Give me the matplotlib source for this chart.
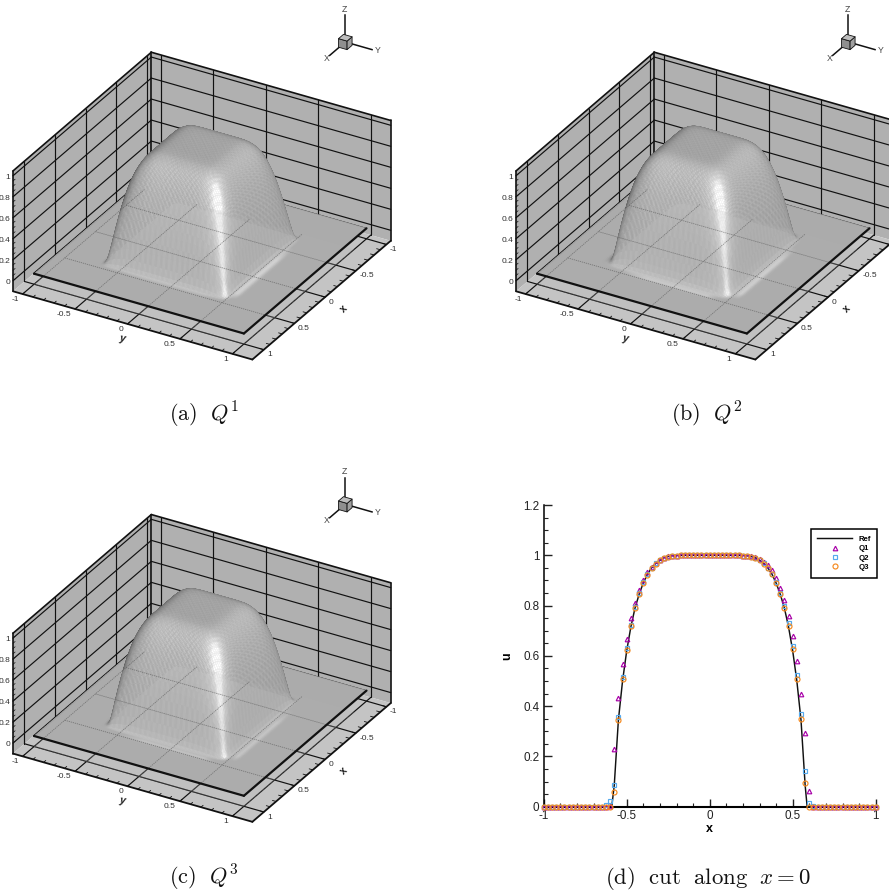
import numpy as np
import matplotlib
matplotlib.use('Agg')
import matplotlib.pyplot as plt
from matplotlib.collections import PolyCollection
from matplotlib.ticker import MultipleLocator, FixedFormatter, FixedLocator

plt.rcParams['font.family'] = ['Liberation Sans', 'DejaVu Sans']
plt.rcParams['mathtext.fontset'] = 'cm'

# ---- cut data (x = -0.625 ... 0.625 every 0.025; zero outside) ----
x_cut = [round(-0.625 + 0.025 * i, 3) for i in range(51)]
plateau = [1.0] * 15
q1_vals = [0, .002, .231, .431, .567, .669, .75, .812, .863, .903, .934, .955, .971, .983, .991, .996, .998, .999] + plateau + \
          [.999, .998, .996, .992, .984, .974, .96, .94, .91, .871, .822, .76, .68, .578, .45, .292, .064, 0]
q2_vals = [.007, .023, .085, .357, .515, .633, .724, .795, .85, .893, .925, .95, .968, .981, .99, .995, .998, .999] + plateau + \
          [.999, .998, .995, .99, .981, .969, .951, .927, .895, .851, .798, .729, .64, .525, .37, .142, .015, .002]
q3_vals = [0, 0, .057, .345, .506, .625, .718, .79, .846, .89, .923, .948, .967, .98, .989, .995, .997, .999] + plateau + \
          [.999, .997, .995, .989, .98, .967, .948, .924, .89, .847, .792, .72, .627, .509, .348, .096, 0, 0]
x_ref = [-1, -.6, -.59, -.575, -.55, -.525, -.5, -.475, -.45, -.425, -.4, -.375, -.35, -.325, -.3, -.275, -.25, -.225, -.2, -.15,
         .15, .2, .225, .25, .275, .3, .325, .35, .375, .4, .425, .45, .475, .5, .525, .55, .575, .587, .6, 1]
ref_vals = [0, 0, 0, .085, .345, .5, .62, .715, .79, .845, .89, .925, .95, .968, .98, .99, .995, .998, .999, 1,
            1, .999, .998, .995, .99, .98, .968, .95, .925, .89, .845, .79, .715, .62, .5, .345, .085, 0, 0, 0]
x_samples = [round(-1 + 0.025 * i, 3) for i in range(81)]

z_ticks = [0, .2, .4, .6, .8, 1]
xy_ticks = [-1, -.5, 0, .5, 1]
xy_labels = ['-1', '-0.5', '0', '0.5', '1']
z_labels = ['0', '0.2', '0.4', '0.6', '0.8', '1']
captions = [r'$\mathrm{(a)}\ \ Q^1$', r'$\mathrm{(b)}\ \ Q^2$', r'$\mathrm{(c)}\ \ Q^3$']
# strength of the thin light ridges at the foot of the bump: (y=+edge, x=+edge)
ridge = [(0.17, 0.04), (0.17, 0.14), (0.13, 0.11)]

# ---- projection (pixels per unit) ----
VX = (-61.3, 52.6); VY = (104.9, 29.9); VZ = (0.0, -105.0)
XR = (-1.07, 1.187); YR = (-1.092, 1.19); ZR = (-0.1, 1.046)
VIEW = np.array([.742, .433, .495])
WALL, FLOOR, PLANE = '#b0b0b0', '#c4c4c4', '#ababab'


def pr(x, y, z, org):
    x, y, z = np.asarray(x, float), np.asarray(y, float), np.asarray(z, float)
    return (org[0] + VX[0]*x + VY[0]*y + VZ[0]*z, org[1] + VX[1]*x + VY[1]*y + VZ[1]*z)


fig = plt.figure(figsize=(8.89, 8.94), dpi=100)
ax = fig.add_axes([0, 0, 1, 1])
ax.set_xlim(0, 889); ax.set_ylim(894, 0); ax.axis('off')


def line(p, q, org, lw=1.0, color='#111111', zorder=2, ls='-', alpha=1.0):
    X, Y = pr([p[0], q[0]], [p[1], q[1]], [p[2], q[2]], org)
    ax.plot(X, Y, color=color, lw=lw, zorder=zorder, ls=ls, alpha=alpha, solid_capstyle='round')


def quad(pts, org, color, zorder=1, alpha=1.0):
    a = np.array(pts).T
    X, Y = pr(a[0], a[1], a[2], org)
    ax.fill(X, Y, color=color, lw=0, zorder=zorder, alpha=alpha)


def surface(vals, rid, org):
    s = np.linspace(-1, 1, 161)
    p = np.interp(s / .965, x_cut, vals, left=0, right=0)
    ker = np.array([1, 2, 1]) / 4
    p = np.convolve(p, ker, mode='same')
    Xg, Yg = np.meshgrid(s, s, indexing='ij')
    U = np.outer(p, p)
    dp = np.gradient(p, s)
    Ux = np.outer(dp, p); Uy = np.outer(p, dp)
    n = np.stack([-Ux, -Uy, np.ones_like(U)], -1)
    n /= np.linalg.norm(n, axis=-1, keepdims=True)
    L = np.array([.6, .55, .58]); L /= np.linalg.norm(L)
    H = np.array([.64, .62, .45]); H /= np.linalg.norm(H)
    d = n @ L
    nh = np.clip(n @ H, 0, 1)
    sh = 0.42 + 0.42 * d + 0.18 * nh ** 14 + 0.5 * nh ** 90
    cx = .25*(Xg[:-1, :-1]+Xg[1:, :-1]+Xg[:-1, 1:]+Xg[1:, 1:])
    cy = .25*(Yg[:-1, :-1]+Yg[1:, :-1]+Yg[:-1, 1:]+Yg[1:, 1:])
    cu = .25*(U[:-1, :-1]+U[1:, :-1]+U[:-1, 1:]+U[1:, 1:])
    cs = .25*(sh[:-1, :-1]+sh[1:, :-1]+sh[:-1, 1:]+sh[1:, 1:])
    flat = 0.42 + 0.42 * L[2] + 0.18 * H[2] ** 14
    base = matplotlib.colors.to_rgb(PLANE)[0]
    cs = cs - (flat - base) * np.exp(-cu / 0.02)
    cs += rid[0] * np.exp(-((cy-.63)/.028)**2) * np.clip((.56-cx)/.1, 0, 1) * np.clip((cx+.42)/.25, 0, 1)
    cs += rid[1] * np.exp(-((cx-.63)/.028)**2) * np.clip((.5-cy)/.1, 0, 1) * np.clip((cy+.42)/.25, 0, 1)
    i, j = np.indices(cs.shape)
    cs += 0.018 * (((i//2 + j//2) % 2) - .5) * (cu > .02)
    cs = np.clip(cs, 0, 1)
    PX, PY = pr(Xg, Yg, U, org)
    verts = np.stack([
        np.stack([PX[:-1, :-1], PY[:-1, :-1]], -1), np.stack([PX[1:, :-1], PY[1:, :-1]], -1),
        np.stack([PX[1:, 1:], PY[1:, 1:]], -1), np.stack([PX[:-1, 1:], PY[:-1, 1:]], -1)], 2).reshape(-1, 4, 2)
    depth = (VIEW[0]*cx + VIEW[1]*cy + VIEW[2]*cu).ravel()
    o = np.argsort(depth)
    col = np.repeat(cs.ravel()[o][:, None], 3, 1)
    ax.add_collection(PolyCollection(verts[o], facecolors=col, edgecolors=col, linewidths=.25, zorder=5))


def panel(vals, rid, org, caption, capxy):
    x0, x1 = XR; y0, y1 = YR; z0, z1 = ZR
    quad([(x1, y0, z0), (x0, y0, z0), (x0, y0, z1), (x1, y0, z1)], org, WALL)
    quad([(x0, y0, z0), (x0, y1, z0), (x0, y1, z1), (x0, y0, z1)], org, WALL)
    quad([(x0, y0, z0), (x1, y0, z0), (x1, y1, z0), (x0, y1, z0)], org, FLOOR)
    for z in z_ticks:
        line((x1, y0, z), (x0, y0, z), org, .85)
        line((x0, y0, z), (x0, y1, z), org, .85)
    for t in xy_ticks:
        line((t, y0, z0), (t, y0, z1), org, .85)
        line((x0, t, z0), (x0, t, z1), org, .85)
        line((t, y0, z0), (t, y1, z0), org, .85)
        line((x0, t, z0), (x1, t, z0), org, .85)
    for t in np.arange(-1, 1.01, .1):
        line((x1, t, z0), (x1-.035, t, z0), org, .6)
        line((t, y1, z0), (t, y1-.035, z0), org, .6)
    for t in np.arange(0, 1.01, .05):
        line((x1, y0, t), (x1-.035, y0, t), org, .5)
    sq = [(1, -1, 0), (1, 1, 0), (-1, 1, 0), (-1, -1, 0)]
    quad(sq, org, PLANE, zorder=3)
    line(sq[3], sq[0], org, 1.6, zorder=4)
    line(sq[2], sq[3], org, .6, zorder=4)
    surface(vals, rid, org)
    seam = -0.8
    quad([(seam, -1, z0), (1, -1, z0), (1, 1, z0), (seam, 1, z0)], org, '#b4b4b4', zorder=6, alpha=.2)
    for t in xy_ticks:
        if t > seam:
            line((t, -1, z0), (t, 1, z0), org, .6, color='#5a5a5a', zorder=7, alpha=.65, ls=(0, (1.5, 1)))
        line((seam, t, z0), (1, t, z0), org, .6, color='#5a5a5a', zorder=7, alpha=.65, ls=(0, (1.5, 1)))
    line(sq[0], sq[1], org, 1.6, zorder=8)
    line(sq[1], sq[2], org, 1.6, zorder=8)
    for a, b in [((x1, y0, z0), (x1, y0, z1)), ((x1, y0, z1), (x0, y0, z1)), ((x0, y0, z1), (x0, y1, z1)),
                 ((x0, y1, z1), (x0, y1, z0)), ((x0, y0, z0), (x0, y0, z1))]:
        line(a, b, org, 1.2, zorder=2.5)
    for a, b in [((x1, y0, z0), (x1, y1, z0)), ((x1, y1, z0), (x0, y1, z0))]:
        line(a, b, org, 1.3, zorder=8)
    tc = '#303030'; fs = 6
    for t, s in zip(z_ticks, z_labels):
        X, Y = pr(x1, y0, t, org)
        ax.text(X-2.5, Y+1.6, s, ha='right', va='center', fontsize=fs, color=tc)
    for t, s in zip(xy_ticks, xy_labels):
        X, Y = pr(x1, t, z0, org)
        ax.text(X-4, Y+5.6, s, ha='right', va='center', fontsize=fs, color=tc)
        X, Y = pr(t, y1, z0, org)
        if X + 12 < 889:     # the reference loses the label beyond the page edge
            ax.text(X+3.4, Y+5.2, s, ha='left', va='center', fontsize=fs, color=tc)
    X, Y = pr(x1, 0, z0, org)
    ax.text(X-5.5, Y+14.5, 'y', ha='center', va='center', fontsize=7.5, color='#222222', weight='bold', style='italic', rotation=-10)
    X, Y = pr(0, y1, z0, org)
    ax.text(X+19, Y+11.5, 'x', ha='center', va='center', fontsize=7.5, color='#222222', weight='bold', rotation=45)
    tx, ty = org[0] + 145.0, org[1] - 209.0
    s = .255
    def tri(v, k=s):
        return (tx + k*(VX[0]*v[0] + VY[0]*v[1] + VZ[0]*v[2]), ty + k*(VX[1]*v[0] + VY[1]*v[1] + VZ[1]*v[2]))
    for v, lab, off in [((1, 0, 0), 'X', (-3.3, 2.8)), ((0, 1, 0), 'Y', (5.5, 0.8)), ((0, 0, 1), 'Z', (-1, -6))]:
        a, b = tri(v)
        ax.plot([tx, a], [ty, b], color='#111111', lw=1.1, zorder=9)
        ax.text(a+off[0], b+off[1], lab, fontsize=6.3, color='#444444', ha='center', va='center', zorder=9)
    h = .16
    faces = [([(h, -h, -h), (h, h, -h), (h, h, h), (h, -h, h)], '#8f8f8f'),
             ([(-h, h, -h), (h, h, -h), (h, h, h), (-h, h, h)], '#a0a0a0'),
             ([(-h, -h, h), (h, -h, h), (h, h, h), (-h, h, h)], '#bdbdbd')]
    for f, c in faces:
        P = [tri(v) for v in f]
        ax.fill(*zip(*P), facecolor=c, edgecolor='#111111', lw=.6, zorder=10, joinstyle='round')
    ax.text(capxy[0], capxy[1], caption, ha='center', va='center', fontsize=16, color='#111111')


panel(q1_vals, ridge[0], (200.3, 251.0), captions[0], (204, 415))
panel(q2_vals, ridge[1], (703.3, 251.0), captions[1], (707, 415))
panel(q3_vals, ridge[2], (200.3, 713.3), captions[2], (204, 878))
ax.text(708, 878, r'$\mathrm{(d)\ \ cut\ \ along}\ \ x=0$', ha='center', va='center', fontsize=16.4, color='#111111')

# ---- panel (d) ----
W, H = 889, 894
L_, R_, T_, B_ = 543.7, 875.7, 505.0, 806.7
a2 = fig.add_axes([L_/W, 1-B_/H, (R_-L_)/W, (B_-T_)/H])
a2.patch.set_alpha(0)
a2.set_xlim(-1, 1); a2.set_ylim(0, 1.2)
a2.plot(x_ref, ref_vals, color='#111111', lw=1.05, label='Ref', zorder=3, clip_on=False)
cut = lambda v: np.interp(x_samples, x_cut, v, left=0, right=0)
a2.plot(x_samples, cut(q1_vals), ls='', marker='^', ms=3.3, mfc='none', mec='#a800a8', mew=.85, label='Q1', zorder=4, clip_on=False)
a2.plot(x_samples, cut(q2_vals), ls='', marker='s', ms=3.0, mfc='none', mec='#55aaee', mew=.85, label='Q2', zorder=5, clip_on=False)
a2.plot(x_samples, cut(q3_vals), ls='', marker='o', ms=3.6, mfc='none', mec='#f58a1f', mew=.85, label='Q3', zorder=6, clip_on=False)
for s in ('top', 'right'):
    a2.spines[s].set_visible(False)
a2.spines['left'].set_linewidth(1.1)
a2.spines['bottom'].set_linewidth(1.5)
a2.xaxis.set_major_locator(FixedLocator([-1, -.5, 0, .5, 1]))
a2.xaxis.set_major_formatter(FixedFormatter(['-1', '-0.5', '0', '0.5', '1']))
a2.xaxis.set_minor_locator(MultipleLocator(.1))
a2.yaxis.set_major_locator(FixedLocator([0, .2, .4, .6, .8, 1, 1.2]))
a2.yaxis.set_major_formatter(FixedFormatter(['0', '0.2', '0.4', '0.6', '0.8', '1', '1.2']))
a2.yaxis.set_minor_locator(MultipleLocator(.05))
a2.tick_params(which='major', direction='in', length=5.6, width=1.0, labelsize=8.4, pad=2.4, colors='#222222')
a2.tick_params(axis='y', which='major', pad=3.2)
a2.tick_params(which='minor', direction='in', length=2.9, width=.8, colors='#222222')
a2.set_xlabel('x', fontsize=9, weight='bold', labelpad=0.5)
a2.set_ylabel('u', fontsize=9, weight='bold', labelpad=2)
a2.xaxis.set_label_coords(.5, -.055)
a2.yaxis.set_label_coords(-.092, .5)
bx = (810.7 - L_) / (R_ - L_); by = (B_ - 577.7) / (B_ - T_)
leg = a2.legend(loc='lower left', bbox_to_anchor=(bx, by), borderaxespad=0, fancybox=False, framealpha=1,
                edgecolor='k', prop={'size': 5.6, 'weight': 'bold'}, handlelength=4.5, handletextpad=.75,
                borderpad=.85, labelspacing=.25)
leg.get_frame().set_linewidth(1.1)
leg.set_zorder(10)

fig.savefig('out.png', dpi=100)
